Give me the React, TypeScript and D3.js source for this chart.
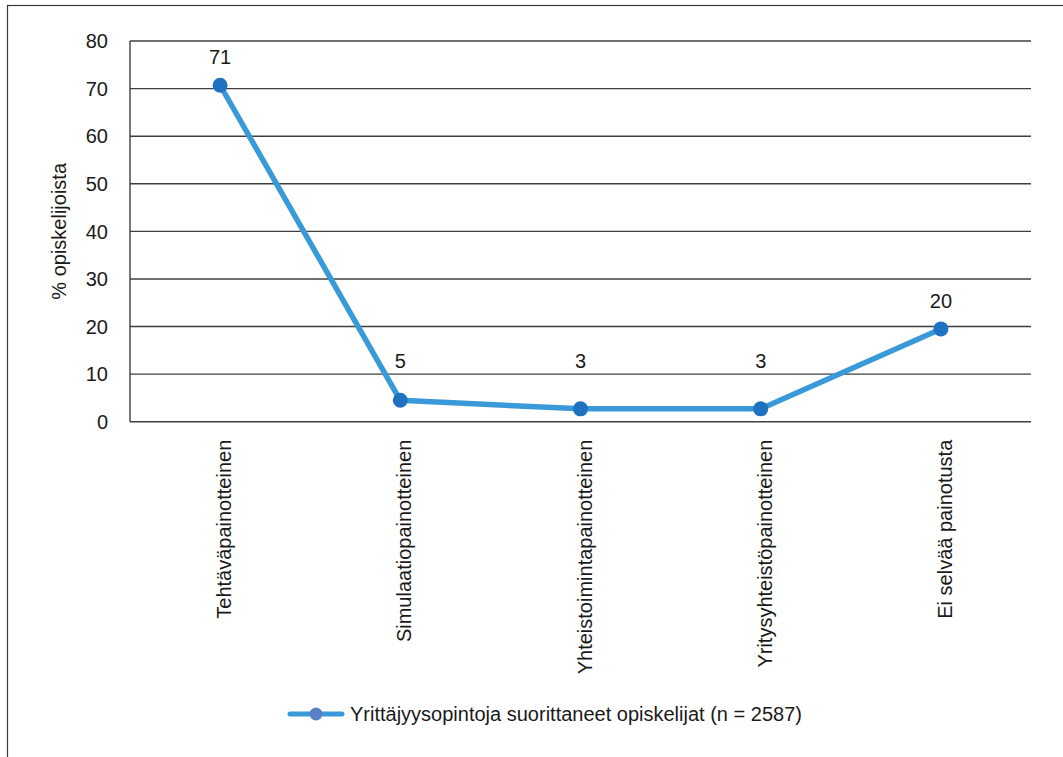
import React from "react";
import * as d3 from "d3";

const categories: string[] = [
  "Tehtäväpainotteinen",
  "Simulaatiopainotteinen",
  "Yhteistoimintapainotteinen",
  "Yritysyhteistöpainotteinen",
  "Ei selvää painotusta",
];
const values: number[] = [70.7, 4.5, 2.7, 2.7, 19.5];
const valueLabels: string[] = ["71", "5", "3", "3", "20"];
const yTicks: number[] = [0, 10, 20, 30, 40, 50, 60, 70, 80];
const seriesName = "Yrittäjyysopintoja suorittaneet opiskelijat (n = 2587)";
const yTitle = "% opiskelijoista";

const W = 1063;
const H = 757;
const FONT = "'Liberation Sans Narrow', 'Liberation Sans', Arial, sans-serif";

export default function App() {
  const left = 130, right = 1031, top = 41, bottom = 421.7;
  const x = d3.scaleBand<string>().domain(categories).range([left, right]);
  const y = d3.scaleLinear().domain([0, 80]).range([bottom, top]);
  const cx = (c: string) => (x(c) as number) + x.bandwidth() / 2;
  const line = d3
    .line<number>()
    .x((_, i) => cx(categories[i]))
    .y((d) => y(d));

  return (
    <svg
      width={W}
      height={H}
      style={{ position: "fixed", left: 0, top: 0, display: "block", background: "#fff" }}
      fontFamily={FONT}
    >
      <rect x={7.5} y={5.5} width={1200} height={900} fill="none" stroke="#3a3a3a" strokeWidth={1.2} />
      {yTicks.map((t) => (
        <g key={t}>
          <line x1={left} x2={right} y1={y(t)} y2={y(t)} stroke="#3f3f3f" strokeWidth={1.4} />
          <text x={108} y={y(t)} dy="0.36em" textAnchor="end" fontSize={20} fill="#1a1a1a">
            {t}
          </text>
        </g>
      ))}
      <line x1={left} x2={left} y1={top} y2={bottom} stroke="#3f3f3f" strokeWidth={1.4} />
      <text
        transform={`translate(66,${(top + bottom) / 2}) rotate(-90)`}
        textAnchor="middle"
        fontSize={20}
        fill="#1a1a1a"
      >
        {yTitle}
      </text>
      {categories.map((c) => (
        <text
          key={c}
          transform={`translate(${cx(c) + 11},${bottom + 18}) rotate(-90)`}
          textAnchor="end"
          fontSize={20}
          fill="#1a1a1a"
        >
          {c}
        </text>
      ))}
      <path d={line(values) || ""} fill="none" stroke="#3a9ad9" strokeWidth={5.5} strokeLinejoin="round" />
      {values.map((v, i) => (
        <circle key={i} cx={cx(categories[i])} cy={y(v)} r={7.5} fill="#1f72c0" />
      ))}
      {values.map((v, i) => (
        <text
          key={i}
          x={cx(categories[i])}
          y={Math.min(y(v) - 28, y(12.9))}
          dy="0.36em"
          textAnchor="middle"
          fontSize={20}
          fill="#1a1a1a"
        >
          {valueLabels[i]}
        </text>
      ))}
      <g>
        <line x1={290} x2={342} y1={714} y2={714} stroke="#3a9ad9" strokeWidth={5} strokeLinecap="round" />
        <circle cx={316} cy={714} r={6.5} fill="#5b7fc4" />
        <text x={350} y={714} dy="0.36em" fontSize={20} fill="#1a1a1a">
          {seriesName}
        </text>
      </g>
    </svg>
  );
}
